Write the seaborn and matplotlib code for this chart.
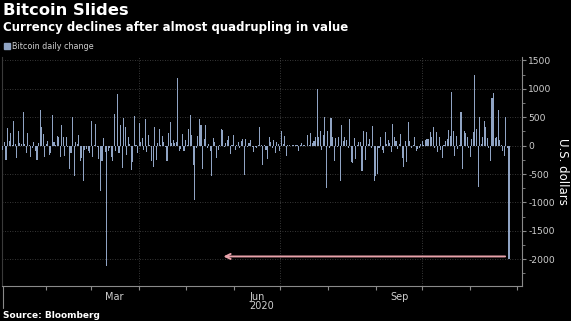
import numpy as np
import pandas as pd
import matplotlib
matplotlib.use("Agg")
import matplotlib.pyplot as plt
import seaborn as sns
from matplotlib.patches import Patch
from matplotlib.lines import Line2D

# ---------------- data (daily change in US$) ----------------
start_date = "2020-01-04"
chg_jan_feb = [-75, 60, -250, 310, 90, 220, 20, 440, 30, -220,
               250, 45, 25, 600, 30, -135, 230, 20,
               -195, -40, 60, -90, -250, 40, 635, 320, 200, -195,
               30, 90, -160, -125, 545, 60, 20, 175, 160, -195,
               370, 160, -180, 160, -30, -410, -135, 500, -530, 60,
               30, 195, -265, -210, -620, -75]
chg_feb_apr = [-60, -90, -135, 430, -205, 20, 380, -30, -235, -805,
               -265, 135, -120, -2120, -90, -40, -195, -265, 560, -100,
               910, -135, 355, -395, 480, 325, -160, 150, 30, -420,
               -295, 530, 20, -135, 395, 60, 135, -75, 470, -120,
               195, 20, -265, -370, 335, -250, 50, 295, 20, 170,
               60, -30, -265, 215, 410]
chg_apr_jun = [40, 100, 40, 60, 1195, -100, -65, 205, -90, 100,
               20, 295, 545, 195, -335, -960, -40, 175, 470, 355,
               -410, 120, 355, -40, 30, -100, -530, 135, 60, -220,
               -75, 20, 295, 280, -20, 40, 100, 175, -150, 20,
               195, -75, 15, 60, -40, 90, 110, -510, 110, -20,
               40, 100, -30, -120]
chg_jun_aug = [-20, -40, 20, 335, 20, -335, 20, -75, -235, 160,
               60, -40, 100, -135, 60, 30, -100, 265, 30, 175,
               -175, 10, 20, -15, 10, 20, 10, 15, -100, 20,
               50, 15, 10, -10, 195, 20, 215, 50, 90, 160,
               1000, 160, 250, -75, 195, 500, -745, 265, -40, 480,
               160, -275, 135, -30, 160, -630, 355]
chg_aug_oct = [90, 150, 100, -40, 470, -295, -310, 135, -235, 15,
               60, 60, -450, 250, -250, 235, 30, 110, -40, 340,
               -630, -530, -500, -40, 150, -75, -135, 245, 30, 100,
               50, -120, 380, 150, 90, -60, 30, 205, -220, -370,
               90, -295, 410, 90, -40, 20, 150, -100, -65, -40,
               30, 80, 20, 100, 110]
chg_oct_nov = [120, 235, 160, 325, -40, 235, -120, 150, -75, -220,
               20, 90, 120, 275, 175, 940, 265, -175, 175, -60,
               20, 590, -410, 265, 215, 150, -40, -195, 120, 235,
               1235, 295, -725, 500, 30, 150, 440, 335, 135, -40,
               -275, 840, 925, 135, 160, 630, 100, 20, -100, -175,
               510, -40, -2000]

daily_change = (chg_jan_feb + chg_feb_apr + chg_apr_jun +
                chg_jun_aug + chg_aug_oct + chg_oct_nov)

y_tick_values = [-2000, -1500, -1000, -500, 0, 500, 1000, 1500]
month_labels = ["Mar", "Jun", "Sep"]
year_label = "2020"
title = "Bitcoin Slides"
subtitle = "Currency declines after almost quadrupling in value"
legend_label = "Bitcoin daily change"
y_label = "U.S. dollars"
source = "Source: Bloomberg"

# ---------------- styling ----------------
W, H = 571, 321
bg = "#000000"
bar_color = "#90a4c4"
grid_color = "#4a4a4a"
spine_color = "#8a8a8a"
text_gray = "#d0d0d0"
arrow_color = "#e8a2aa"

sns.set_theme(style="dark")
plt.rcParams["font.family"] = ["DejaVu Sans"]

epoch = pd.Timestamp("2020-01-01")
dates = pd.date_range(start_date, periods=len(daily_change), freq="D")
day_num = np.asarray((dates - epoch).days)
df = pd.DataFrame({"day": day_num, "change": daily_change})

fig = plt.figure(figsize=(W / 100, H / 100), dpi=100, facecolor=bg)
ax_left, ax_right, ax_top, ax_bottom = 2, 522, 57, 286
ax = fig.add_axes([ax_left / W, 1 - ax_bottom / H,
                   (ax_right - ax_left) / W, (ax_bottom - ax_top) / H])
ax.set_facecolor(bg)

sns.barplot(data=df, x="day", y="change", native_scale=True,
            color=bar_color, saturation=1, width=0.7, errorbar=None,
            edgecolor="none", linewidth=0, ax=ax, zorder=3)

ax.set_xlim(2.4, 338.4)
ax.set_ylim(-2470, 1560)

# y axis on the right
ax.yaxis.tick_right()
ax.yaxis.set_label_position("right")
ax.set_yticks(y_tick_values)
ax.set_yticklabels([str(v) for v in y_tick_values])
ax.set_yticks(np.arange(-2250, 1600, 250), minor=True)
ax.tick_params(axis="y", which="major", direction="out", length=3, width=0.8,
               color=spine_color, labelcolor=text_gray, labelsize=6.6, pad=1.5,
               right=True, left=False)
ax.tick_params(axis="y", which="minor", direction="out", length=2, width=0.6,
               color=spine_color, right=True, left=False)
ax.set_ylabel(y_label, rotation=270, color="white", fontsize=8.5, labelpad=10)

# x axis: month boundary ticks, month names centred in the month
month_starts = pd.date_range("2020-02-01", "2020-12-01", freq="MS")
month_start_days = np.asarray((month_starts - epoch).days)
ax.set_xticks(month_start_days)
ax.set_xticklabels([""] * len(month_start_days))
label_days = [(pd.Timestamp(f"2020-{m}-01") - epoch).days + 15
              for m in ["03", "06", "09"]]
ax.set_xticks(label_days, minor=True)
ax.set_xticklabels(month_labels, minor=True)
ax.tick_params(axis="x", which="major", direction="out", length=3, width=0.8,
               color=spine_color, bottom=True)
ax.tick_params(axis="x", which="minor", length=0, labelcolor=text_gray,
               labelsize=7, pad=4)
ax.set_xlabel("")
ax.text(0.5, -0.088, year_label, transform=ax.transAxes, ha="center",
        va="center", color=text_gray, fontsize=7)
ax.add_line(Line2D([0.002, 0.002], [0, -0.097], transform=ax.transAxes,
                   color=spine_color, lw=0.8, clip_on=False))

# grid
ax.grid(False)
for v in y_tick_values:
    ax.axhline(v, color=grid_color, lw=0.6, ls=(0, (1, 2)), zorder=1)
quarter_days = [(pd.Timestamp(d) - epoch).days
                for d in ["2020-04-01", "2020-07-01", "2020-10-01"]]
for d in quarter_days:
    ax.axvline(d, color=grid_color, lw=0.6, ls=(0, (1, 2)), zorder=1)

# spines
ax.spines["top"].set_visible(False)
ax.spines["right"].set_color(spine_color)
ax.spines["right"].set_linewidth(0.8)
ax.spines["bottom"].set_color(spine_color)
ax.spines["bottom"].set_linewidth(0.8)
ax.spines["left"].set_color("#3a3a3a")
ax.spines["left"].set_linewidth(0.8)

# arrow pointing back to the March crash level
arrow_y = -1950
arrow_tail_day = 327.5
arrow_head_day = 145.5
ax.annotate("", xy=(arrow_head_day, arrow_y), xytext=(arrow_tail_day, arrow_y),
            arrowprops=dict(arrowstyle="->", color=arrow_color, lw=1.4,
                            mutation_scale=9, shrinkA=0, shrinkB=0),
            zorder=4)

# titles
fig.text(3 / W, 1 - 3 / H, title, color="white", fontsize=11.8,
         weight="bold", va="top", ha="left")
fig.text(3 / W, 1 - 21 / H, subtitle, color="white", fontsize=8.5,
         weight="bold", va="top", ha="left")
fig.legend(handles=[Patch(color=bar_color, label=legend_label)],
           loc="upper left", bbox_to_anchor=(4 / W, 1 - 42 / H),
           frameon=False, fontsize=5.8, labelcolor=text_gray,
           handlelength=0.7, handleheight=0.7, handletextpad=0.3,
           borderaxespad=0, borderpad=0)
fig.text(3 / W, 1 - 315 / H, source, color="white", fontsize=6.5,
         weight="bold", va="center", ha="left")

fig.savefig("out.png", dpi=100, facecolor=bg)
